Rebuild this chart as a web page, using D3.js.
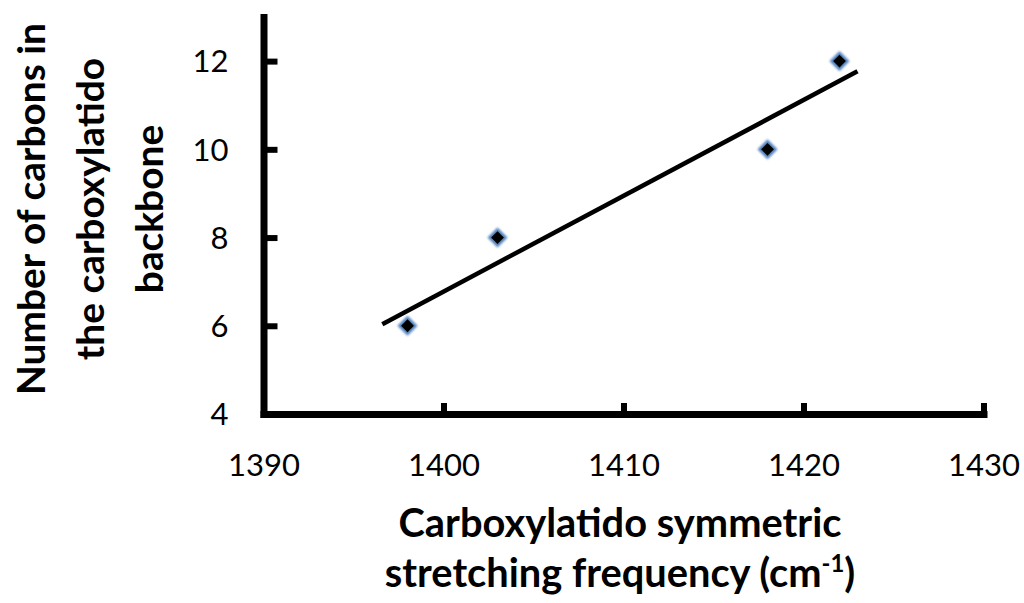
<!DOCTYPE html>
<html>
<head>
<meta charset="utf-8">
<script src="https://cdn.jsdelivr.net/npm/d3@7"></script>
<style>
  html, body { margin: 0; padding: 0; background: #fff; }
  svg { display: block; }
  text { font-family: Lato, "Open Sans", sans-serif; fill: #000; }
</style>
</head>
<body>
<svg id="chart" width="1024" height="603"></svg>
<script>
// Carboxylatido symmetric stretching frequency (cm-1) vs. carbon count
const frequencies = [1398, 1403, 1418, 1422];
const carbonCounts = [6, 8, 10, 12];

const xTicks = [1390, 1400, 1410, 1420, 1430];
const yTicks = [4, 6, 8, 10, 12];
const xDomain = [1390, 1430];
const yDomain = [4, 13];
// extent of the linear trendline along x
const trendExtent = [1396.6, 1423];

const xTitleLines = ["Carboxylatido symmetric", "stretching frequency (cm"];
const yTitleLines = ["Number of carbons in", "the carboxylatido", "backbone"];

const svg = d3.select("#chart");

const x = d3.scaleLinear().domain(xDomain).range([263.5, 983.5]);
const y = d3.scaleLinear().domain(yDomain).range([414, 17]);

const defs = svg.append("defs");
defs.append("filter").attr("id", "soft")
  .attr("x", "-50%").attr("y", "-50%").attr("width", "200%").attr("height", "200%")
  .append("feGaussianBlur").attr("stdDeviation", 1.1);

// axes
const axisW = 7;
const xAxis = d3.axisBottom(x).tickValues(xTicks).tickSizeInner(-11).tickSizeOuter(0)
  .tickPadding(40).tickFormat(d3.format("d"));
const yAxis = d3.axisLeft(y).tickValues(yTicks).tickSizeInner(-14).tickSizeOuter(0)
  .tickPadding(35).tickFormat(d3.format("d"));

const gx = svg.append("g").attr("transform", `translate(0,${y(yDomain[0])})`).call(xAxis);
const gy = svg.append("g").attr("transform", `translate(${x(xDomain[0])},0)`).call(yAxis);

[gx, gy].forEach(g => {
  g.select(".domain").attr("stroke", "#000").attr("stroke-width", axisW).attr("stroke-linecap", "square");
  g.selectAll(".tick line").attr("stroke", "#000").attr("stroke-width", 6);
  g.selectAll(".tick text").attr("font-size", 31).attr("font-family", "Lato, sans-serif").attr("fill", "#000");
});
gx.selectAll(".tick text").attr("dy", "0.71em");
gy.selectAll(".tick text").attr("dy", "0.35em");

// least-squares trendline
const n = frequencies.length;
const mx = d3.mean(frequencies), my = d3.mean(carbonCounts);
let sxy = 0, sxx = 0;
for (let i = 0; i < n; i++) {
  sxy += (frequencies[i] - mx) * (carbonCounts[i] - my);
  sxx += (frequencies[i] - mx) ** 2;
}
const slope = sxy / sxx;
const intercept = my - slope * mx;
const trend = trendExtent.map(f => [f, intercept + slope * f]);

svg.append("path")
  .datum(trend)
  .attr("d", d3.line().x(d => x(d[0])).y(d => y(d[1])))
  .attr("stroke", "#000").attr("stroke-width", 4.5).attr("fill", "none");

// diamond markers
const points = frequencies.map((f, i) => ({ f, c: carbonCounts[i] }));
const outer = d3.symbol().type(d3.symbolSquare).size(200);
const inner = d3.symbol().type(d3.symbolSquare).size(82);

const pts = svg.append("g").selectAll("g").data(points).join("g")
  .attr("transform", d => `translate(${x(d.f)},${y(d.c)}) rotate(45)`);
pts.append("path").attr("d", outer).attr("fill", "#4F81BD").attr("filter", "url(#soft)");
pts.append("path").attr("d", inner).attr("fill", "#000");

// scale a bold title so its first line spans a given width
function fitSize(text, width) {
  const t = svg.append("text").attr("font-weight", 700).attr("font-size", 40).text(text);
  const w = t.node().getComputedTextLength();
  t.remove();
  return 40 * width / w;
}

// x-axis title
const xSize = fitSize(xTitleLines[0], 443);
const xTitle = svg.append("text")
  .attr("font-weight", 700).attr("font-size", xSize)
  .attr("text-anchor", "middle");
xTitle.append("tspan").attr("x", 620).attr("y", 537).text(xTitleLines[0]);
const l2 = xTitle.append("tspan").attr("x", 620).attr("y", 587);
l2.append("tspan").text(xTitleLines[1]);
l2.append("tspan").attr("font-size", xSize * 0.6).attr("dy", -xSize * 0.38).text("-1");
l2.append("tspan").attr("dy", xSize * 0.38).text(")");

// y-axis title
const ySize = fitSize(yTitleLines[0], 372);
const yTitle = svg.append("text")
  .attr("font-weight", 700).attr("font-size", ySize)
  .attr("text-anchor", "middle")
  .attr("transform", "translate(0,209) rotate(-90)");
yTitleLines.forEach((line, i) => {
  yTitle.append("tspan").attr("x", 0).attr("y", 45 + i * 59).text(line);
});
</script>
</body>
</html>
